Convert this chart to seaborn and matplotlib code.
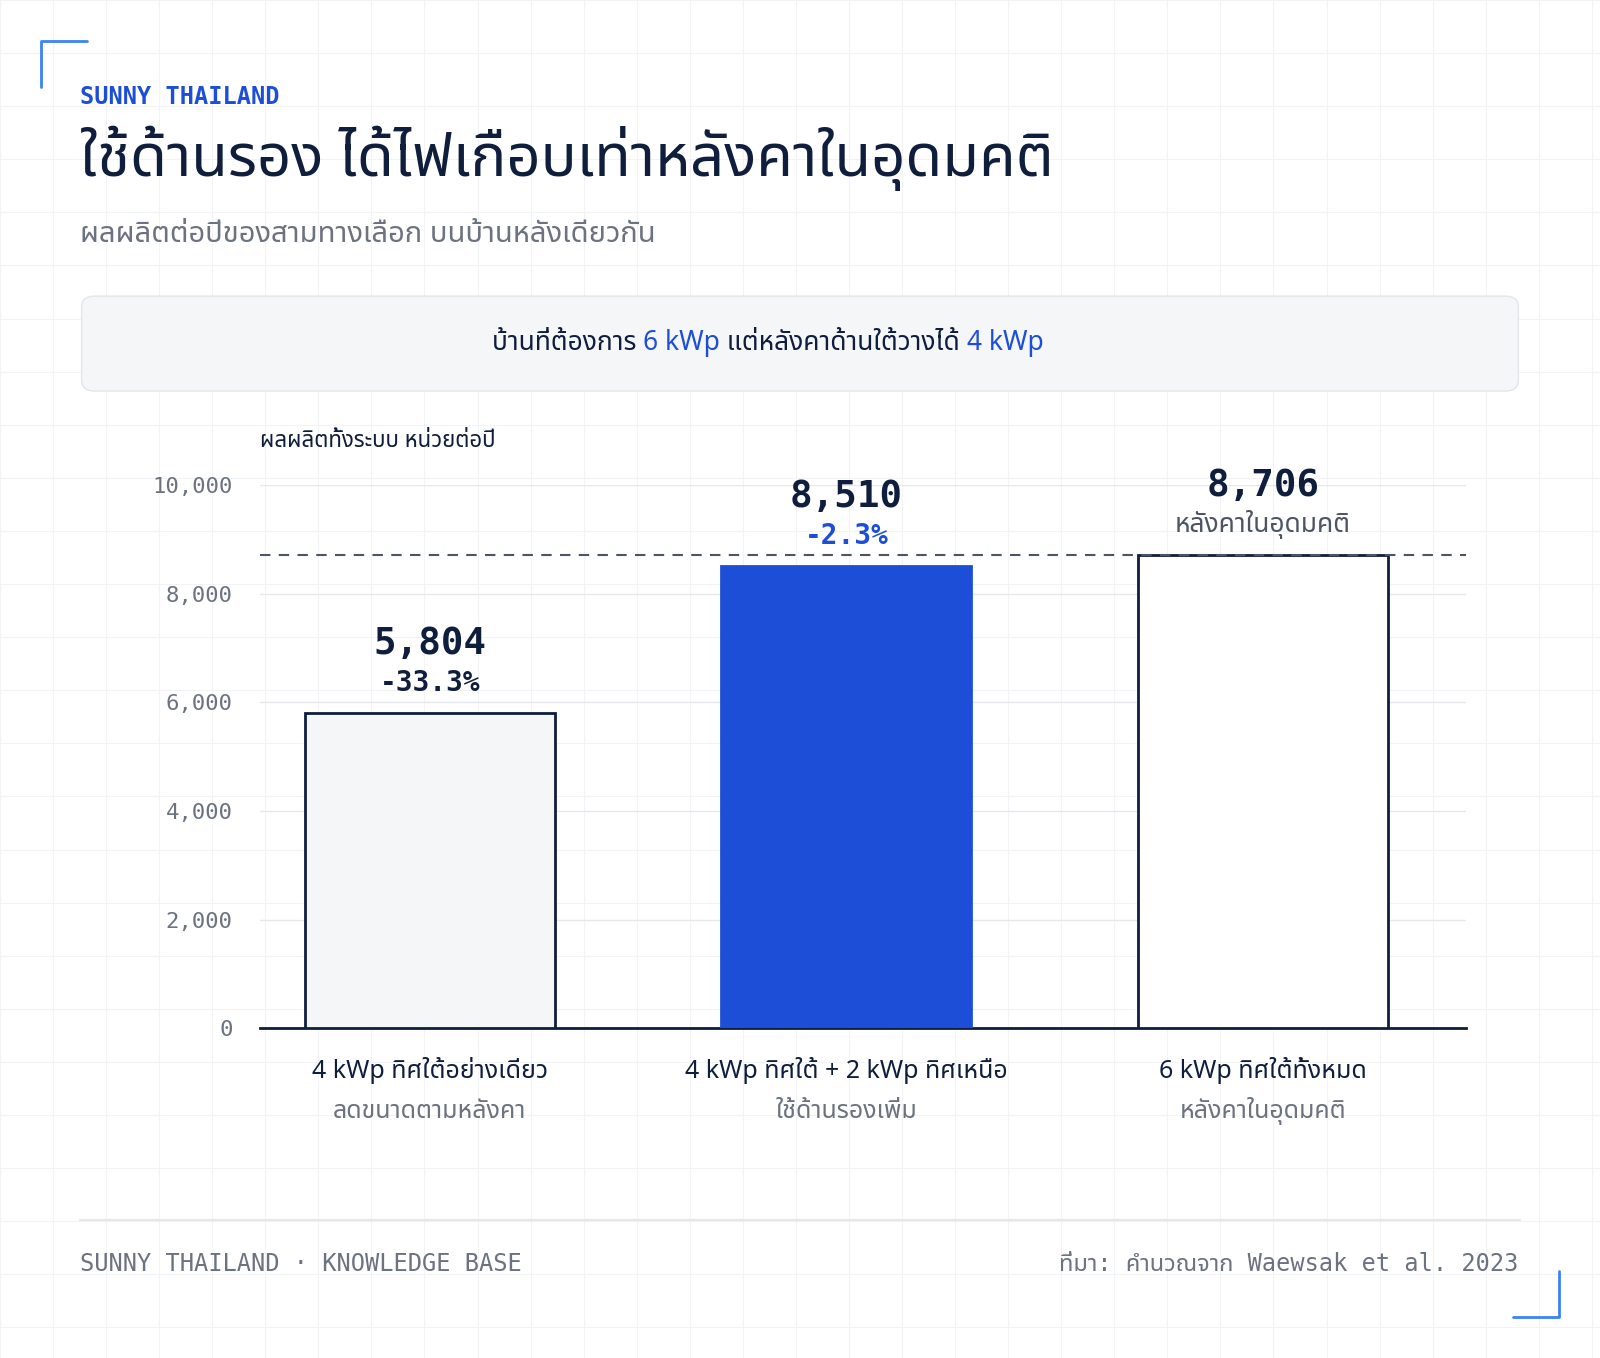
import matplotlib
matplotlib.use("Agg")
import matplotlib.pyplot as plt
import seaborn as sns
import pandas as pd
from matplotlib.lines import Line2D
from matplotlib.patches import FancyBboxPatch
from matplotlib.text import Annotation

categories = ["4 kWp ทิศใต้อย่างเดียว", "4 kWp ทิศใต้ + 2 kWp ทิศเหนือ", "6 kWp ทิศใต้ทั้งหมด"]
subtitles = ["ลดขนาดตามหลังคา", "ใช้ด้านรองเพิ่ม", "หลังคาในอุดมคติ"]
values = [5804, 8510, 8706]
labels = ["5,804", "8,510", "8,706"]
notes = ["-33.3%", "-2.3%", "หลังคาในอุดมคติ"]
yticks = [0, 2000, 4000, 6000, 8000, 10000]

sns.set_theme(style="white")
TH = ["Noto Sans Thai", "Noto Sans", "DejaVu Sans"]
LAT_BOLD = ["Noto Sans", "Noto Sans Thai", "DejaVu Sans"]
MONO = ["DejaVu Sans Mono", "Liberation Mono"]
plt.rcParams['font.family'] = TH

W, H = 1568, 1330
fig = plt.figure(figsize=(16, 13.58), dpi=100)
fig.patch.set_facecolor("white")
def fx(x): return x / W
def fy(y): return 1 - y / H

for x in range(0, W, 52):
    fig.add_artist(Line2D([fx(x), fx(x)], [0, 1], color="#f1f3f5", lw=0.8, zorder=-10))
for y in range(0, H, 52):
    fig.add_artist(Line2D([0, 1], [fy(y), fy(y)], color="#f1f3f5", lw=0.8, zorder=-10))

blue = "#1d4ed8"; navy = "#0f1e3d"; grey = "#6b7280"
fig.add_artist(Line2D([fx(40), fx(40), fx(85)], [fy(85), fy(40), fy(40)], color="#3b82f6", lw=2))
fig.add_artist(Line2D([fx(1483), fx(1528), fx(1528)], [fy(1290), fy(1290), fy(1245)], color="#3b82f6", lw=2))

fig.text(fx(78), fy(95), "SUNNY THAILAND", family=MONO, color=blue, fontsize=17, fontweight="bold", va="center")
fig.text(fx(78), fy(155), "ใช้ด้านรอง ได้ไฟเกือบเท่าหลังคาในอุดมคติ", color=navy, fontsize=43, fontweight="bold", va="center")
fig.text(fx(78), fy(230), "ผลผลิตต่อปีของสามทางเลือก บนบ้านหลังเดียวกัน", color=grey, fontsize=21, va="center")

box = FancyBboxPatch((fx(80), fy(383)), fx(1408), fy(290) - fy(383), boxstyle="round,pad=0,rounding_size=0.008",
                     transform=fig.transFigure, facecolor="#f5f6f8", edgecolor="#e2e5ea", lw=1)
fig.add_artist(box)
parts = [("6 kWp", blue, "bold"), (" แต่หลังคาด้านใต้วางได้ ", navy, "normal"), ("4 kWp", blue, "bold")]
prev = fig.text(fx(482), fy(336), "บ้านที่ต้องการ ", color=navy, fontsize=19, va="center")
for s, c, w in parts:
    prev = fig.add_artist(Annotation(s, xy=(1, 0.5), xycoords=prev, va="center", color=c, fontsize=19,
                                     fontweight=w, family=LAT_BOLD if w == "bold" else TH))

ax = fig.add_axes([fx(255), fy(1007), fx(1437) - fx(255), fy(475) - fy(1007)])
df = pd.DataFrame({"cat": categories, "val": values})
sns.barplot(data=df, x="cat", y="val", hue="cat", palette=["#f5f6f8", blue, "#ffffff"], width=0.6,
            legend=False, ax=ax, saturation=1)
for i, p in enumerate(ax.patches):
    p.set_edgecolor(navy if i != 1 else blue)
    p.set_linewidth(2)
    p.set_zorder(3)
ax.set_xlim(-0.407, 2.488)
ax.set_ylim(0, 10000)
ax.set_yticks(yticks)
ax.set_yticklabels([f"{v:,}" for v in yticks], family=MONO, fontsize=16, color=grey)
ax.grid(axis="y", color="#e5e7eb", lw=1)
ax.set_axisbelow(True)
for s in ["top", "right", "left"]:
    ax.spines[s].set_visible(False)
ax.spines["bottom"].set_color(navy); ax.spines["bottom"].set_linewidth(2)
ax.tick_params(axis="y", length=0, pad=20)
ax.tick_params(axis="x", length=0)
ax.set_xticklabels([])
ax.set_xlabel(""); ax.set_ylabel("")
ax.set_facecolor("none")
ax.axhline(values[2], color="#4b5563", lw=1.5, ls=(0, (5, 4)), zorder=4)
ax.text(0, 10800, "ผลผลิตทั้งระบบ หน่วยต่อปี", transform=ax.get_yaxis_transform(), fontsize=16,
        fontweight="bold", color=navy, va="center")

for i, v in enumerate(values):
    ax.text(i, v + (1280 if i == 2 else 1260), labels[i], ha="center", va="center", family=MONO, fontsize=27,
            fontweight="bold", color=navy)
    if i < 2:
        ax.text(i, v + 545, notes[i], ha="center", va="center", family=MONO, fontsize=20, fontweight="bold",
                color=navy if i == 0 else blue)
    else:
        ax.text(i, v + 560, notes[i], ha="center", va="center", fontsize=19, fontweight="bold", color="#4b5563")
    ax.text(i, -780, categories[i], ha="center", va="center", fontsize=18, fontweight="bold", color=navy)
    ax.text(i, -1530, subtitles[i], ha="center", va="center", fontsize=18, color=grey)

fig.add_artist(Line2D([fx(78), fx(1490)], [fy(1195), fy(1195)], color="#e5e7eb", lw=1.5))
fig.text(fx(78), fy(1238), "SUNNY THAILAND · KNOWLEDGE BASE", family=MONO, fontsize=17, color=grey, va="center")
fig.text(fx(1488), fy(1238), "ที่มา: คำนวณจาก Waewsak et al. 2023", family=MONO + TH, fontsize=17, color=grey,
         va="center", ha="right")

fig.savefig("out.png", dpi=100)
